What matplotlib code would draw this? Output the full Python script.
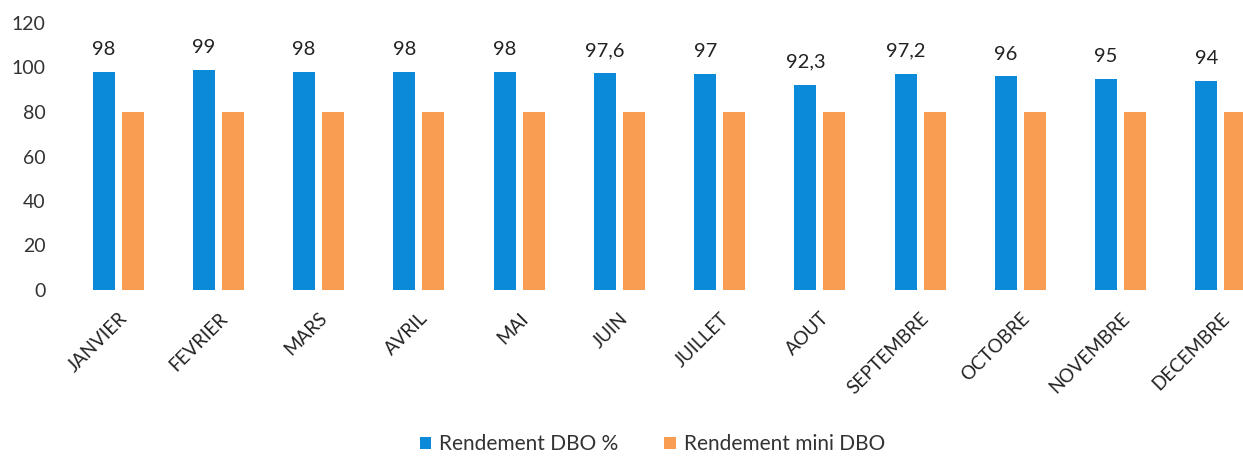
import matplotlib
matplotlib.use("Agg")
import matplotlib.pyplot as plt
import numpy as np

months = ["JANVIER", "FEVRIER", "MARS", "AVRIL", "MAI", "JUIN", "JUILLET",
          "AOUT", "SEPTEMBRE", "OCTOBRE", "NOVEMBRE", "DECEMBRE"]
rendement_dbo = [98, 99, 98, 98, 98, 97.6, 97, 92.3, 97.2, 96, 95, 94]
rendement_mini = [80, 80, 80, 80, 80, 80, 80, 80, 80, 80, 80, 80]
yticks = [0, 20, 40, 60, 80, 100, 120]

plt.rcParams['font.family'] = ['Lato', 'DejaVu Sans']

fig = plt.figure(figsize=(12.43, 4.57), dpi=100)
ax = fig.add_axes([68/1243, 1-290/457, 1-68/1243, (290-23)/457])

x = np.arange(len(months))
w = 0.22
off = 0.145
blue = '#0C8ADA'
orange = '#F89D52'
b1 = ax.bar(x - off, rendement_dbo, w, color=blue, label='Rendement DBO %')
b2 = ax.bar(x + off, rendement_mini, w, color=orange, label='Rendement mini DBO')

for xi, v in zip(x, rendement_dbo):
    s = f"{v:g}".replace('.', ',')
    ax.annotate(s, (xi - off, v), xytext=(0, 10), textcoords='offset points',
                ha='center', va='bottom', fontsize=14.5, color='#222222')

ax.set_xlim(-0.5, 11.22)
ax.set_ylim(0, 120)
ax.set_yticks(yticks)
ax.set_yticklabels([str(t) for t in yticks], fontsize=14, color='#333333')
ax.set_xticks(x)
ax.set_xticklabels(months, rotation=45, ha='right', rotation_mode='anchor',
                   fontsize=13.5, color='#222222')
ax.tick_params(axis='both', length=0)
ax.tick_params(axis='y', pad=16)
ax.tick_params(axis='x', pad=14)
for sp in ax.spines.values():
    sp.set_visible(False)

fig.legend(handles=[b1, b2], loc='lower center', bbox_to_anchor=(0.525, -0.035),
           ncol=2, frameon=False, fontsize=15, handlelength=0.55, handleheight=0.55,
           columnspacing=2.2, handletextpad=0.4, labelcolor='#333333')

fig.savefig('out.png', dpi=100)
